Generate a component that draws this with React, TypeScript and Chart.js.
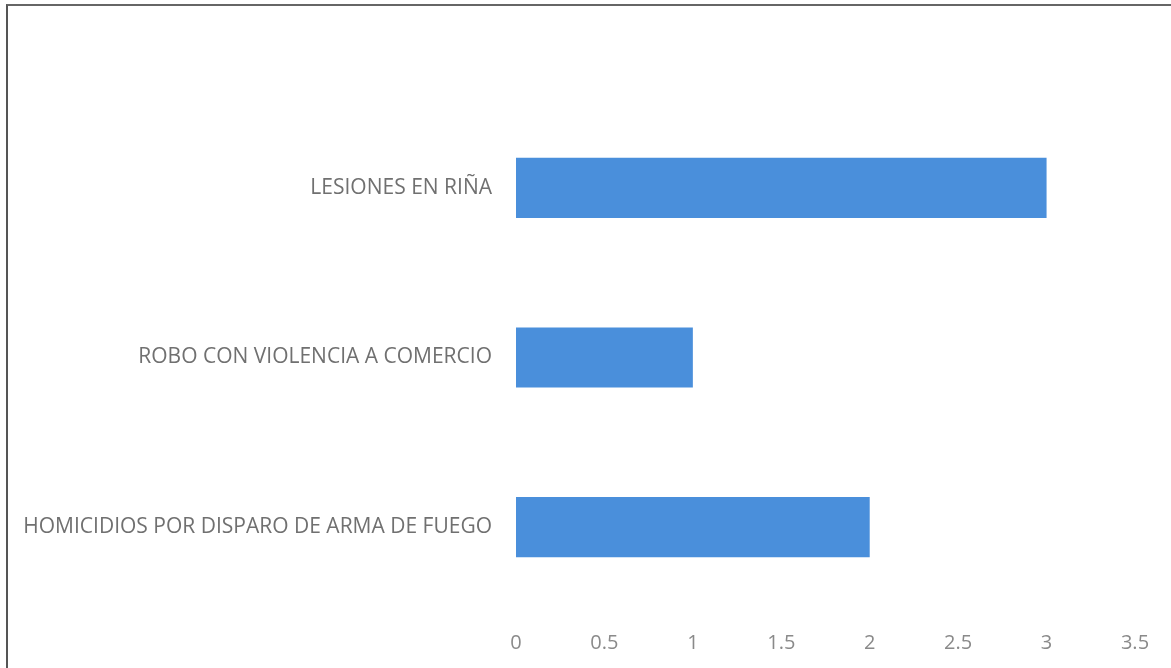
import React, { useEffect, useRef } from "react";
import { Chart, registerables } from "chart.js";

Chart.register(...registerables);

const categories = [
  "LESIONES EN RIÑA",
  "ROBO CON VIOLENCIA A COMERCIO",
  "HOMICIDIOS POR DISPARO DE ARMA DE FUEGO",
];
const values = [3, 1, 2];
const xMin = 0;
const xMax = 3.5;
const xStep = 0.5;

export default function App() {
  const ref = useRef<HTMLCanvasElement | null>(null);
  useEffect(() => {
    if (!ref.current) return;
    const chart = new Chart(ref.current, {
      type: "bar",
      data: {
        labels: categories,
        datasets: [
          {
            data: values,
            backgroundColor: "#4A8FDB",
            borderWidth: 0,
            barPercentage: 0.355,
            categoryPercentage: 1,
          },
        ],
      },
      options: {
        indexAxis: "y",
        animation: false,
        responsive: false,
        layout: { padding: { top: 103, right: 36, left: 0, bottom: 0 } },
        plugins: { legend: { display: false }, tooltip: { enabled: false } },
        scales: {
          x: {
            min: xMin,
            max: xMax,
            grid: { display: false },
            border: { display: false },
            ticks: {
              stepSize: xStep,
              color: "#8a8a8a",
              font: { family: "Open Sans", size: 20 },
              padding: 11,
              maxRotation: 0,
              callback: (v: any) => String(Number(v)),
            },
            afterFit: (s: any) => {
              s.height = 56;
            },
          },
          y: {
            grid: { display: false },
            border: { display: false },
            ticks: {
              color: "#707070",
              font: { family: "Open Sans", size: 21 },
              padding: 16,
            },
            afterFit: (s: any) => {
              s.width = 516;
            },
          },
        },
      },
    });
    return () => chart.destroy();
  }, []);
  return (
    <div style={{ position: "fixed", left: 0, top: 0, width: 1171, height: 668, background: "#fff" }}>
      <canvas ref={ref} width={1171} height={668} style={{ position: "absolute", left: 0, top: 0 }} />
      <div
        style={{
          position: "absolute",
          left: 6,
          top: 4,
          width: 1200,
          height: 700,
          borderLeft: "2px solid #555",
          borderTop: "2px solid #666",
          pointerEvents: "none",
        }}
      />
    </div>
  );
}
